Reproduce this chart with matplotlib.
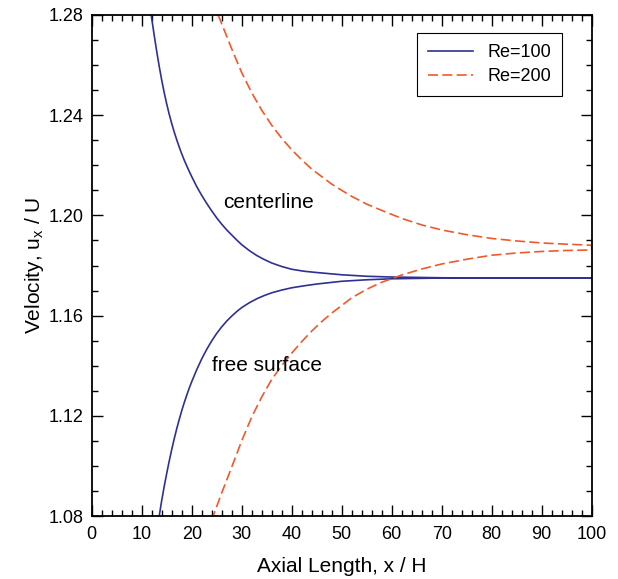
import matplotlib
matplotlib.use("Agg")
import matplotlib.pyplot as plt
from matplotlib.ticker import MultipleLocator

plt.rcParams["font.family"] = ["Liberation Sans", "DejaVu Sans"]
plt.rcParams["mathtext.default"] = "regular"

# Re=100, centerline and free surface
x100_center = [11.9, 12.5, 13, 13.5, 14, 14.5, 15, 15.5, 16, 16.5, 17, 17.5, 18, 18.5,
               19, 19.5, 20, 21, 22, 23, 24, 25, 26, 27, 28, 29, 30, 31.5, 33, 34.5,
               36, 38, 40, 42.5, 45, 50, 55, 60, 70, 80, 100]
u100_center = [1.2800, 1.2719, 1.2655, 1.2595, 1.2540, 1.2490, 1.2445, 1.2404, 1.2367,
               1.2333, 1.2302, 1.2273, 1.2246, 1.2221, 1.2198, 1.2176, 1.2155, 1.2115,
               1.2080, 1.2048, 1.2018, 1.1990, 1.1965, 1.1942, 1.1922, 1.1902, 1.1883,
               1.1860, 1.1840, 1.1824, 1.1810, 1.1796, 1.1785, 1.1777, 1.1772, 1.1763,
               1.1757, 1.1754, 1.1751, 1.1750, 1.1750]
x100_free = [13.5, 14, 14.5, 15, 15.5, 16, 16.5, 17, 17.5, 18, 18.5, 19, 19.5, 20, 21,
             22, 23, 24, 25, 26, 27, 28, 29, 30, 31.5, 33, 34.5, 36, 38, 40, 42.5, 45,
             50, 55, 60, 70, 100]
u100_free = [1.0800, 1.0862, 1.0918, 1.0970, 1.1019, 1.1065, 1.1108, 1.1148, 1.1185,
             1.1220, 1.1252, 1.1282, 1.1310, 1.1336, 1.1384, 1.1427, 1.1465, 1.1499,
             1.1529, 1.1555, 1.1578, 1.1598, 1.1616, 1.1632, 1.1651, 1.1667, 1.1680,
             1.1691, 1.1702, 1.1711, 1.1719, 1.1726, 1.1737, 1.1743, 1.1747, 1.1750,
             1.1750]

# Re=200, centerline and free surface
x200_center = [25.3, 26, 28, 30, 32, 34, 36, 38, 40, 42, 44, 46, 48, 50, 52, 55, 58,
               62, 66, 70, 75, 80, 85, 90, 95, 100]
u200_center = [1.2800, 1.2765, 1.2665, 1.2570, 1.2490, 1.2420, 1.2360, 1.2308, 1.2262,
               1.2222, 1.2185, 1.2155, 1.2125, 1.2100, 1.2076, 1.2045, 1.2020, 1.1988,
               1.1962, 1.1942, 1.1923, 1.1908, 1.1898, 1.1890, 1.1885, 1.1881]
x200_free = [24.3, 26, 28, 30, 32, 34, 36, 38, 40, 42, 44, 46, 48, 50, 52, 55, 58,
             62, 66, 70, 75, 80, 85, 90, 95, 100]
u200_free = [1.0800, 1.0892, 1.0995, 1.1100, 1.1195, 1.1275, 1.1345, 1.1400, 1.1450,
             1.1496, 1.1538, 1.1576, 1.1610, 1.1640, 1.1671, 1.1705, 1.1733, 1.1762,
             1.1786, 1.1806, 1.1825, 1.1841, 1.1850, 1.1856, 1.1860, 1.1862]

labels = ["Re=100", "Re=200"]
blue = "#2e3192"
red = "#f05a28"

fig = plt.figure(figsize=(6.18, 5.79), dpi=100)
ax = fig.add_axes([0.1484, 0.1088, 0.809, 0.8653])

# each series is one line: centerline out, then back along the free surface
ax.plot(x100_center + x100_free[::-1], u100_center + u100_free[::-1],
        color=blue, lw=1.2, label=labels[0])
ax.plot(x200_center + x200_free[::-1], u200_center + u200_free[::-1],
        color=red, lw=1.2, dashes=(6, 2.6), label=labels[1])

ax.set_xlim(0, 100)
ax.set_ylim(1.08, 1.28)
ax.xaxis.set_major_locator(MultipleLocator(10))
ax.xaxis.set_minor_locator(MultipleLocator(2))
ax.yaxis.set_major_locator(MultipleLocator(0.04))
ax.yaxis.set_minor_locator(MultipleLocator(0.01))
ax.yaxis.set_major_formatter(plt.FormatStrFormatter("%.2f"))
ax.tick_params(which="both", direction="in", top=True, right=True,
               labelsize=13, width=1)
ax.tick_params(axis="x", pad=7)
ax.tick_params(axis="y", pad=6)
ax.tick_params(which="major", length=8)
ax.tick_params(which="minor", length=4)
for s in ax.spines.values():
    s.set_linewidth(1.3)

ax.set_xlabel("Axial Length, x / H", fontsize=15, labelpad=10)
ax.set_ylabel("Velocity, u$_{x}$ / U", fontsize=15, labelpad=2)

ax.text(26.2, 1.2053, "centerline", fontsize=15, va="center", ha="left")
ax.text(24.0, 1.1399, "free surface", fontsize=15, va="center", ha="left")

leg = ax.legend(loc="upper right", bbox_to_anchor=(0.9406, 0.964), borderaxespad=0,
                fontsize=13, handlelength=2.5, fancybox=False, framealpha=1,
                edgecolor="black", borderpad=0.6, labelspacing=0.4)
leg.get_frame().set_linewidth(0.8)

fig.savefig("out.png", dpi=100)
